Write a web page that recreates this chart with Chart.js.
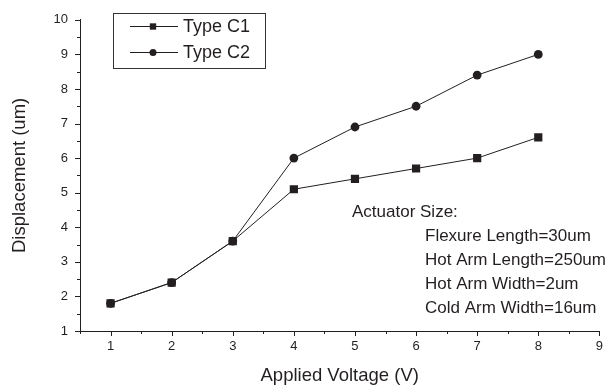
<!DOCTYPE html>
<html>
<head>
<meta charset="utf-8">
<script src="https://cdn.jsdelivr.net/npm/chart.js@4/dist/chart.umd.min.js"></script>
<style>
  html, body { margin: 0; padding: 0; background: #fff; }
  #chart { display: block; }
</style>
</head>
<body>
<canvas id="chart" width="611" height="389"></canvas>
<script>
// data
const voltage = [1, 2, 3, 4, 5, 6, 7, 8];
const typeC1 = [1.8, 2.4, 3.6, 5.1, 5.4, 5.7, 6.0, 6.6];
const typeC2 = [1.8, 2.4, 3.6, 6.0, 6.9, 7.5, 8.4, 9.0];
const seriesNames = ['Type C1', 'Type C2'];
const noteTitle = 'Actuator Size:';
const noteLines = ['Flexure Length=30um', 'Hot Arm Length=250um', 'Hot Arm Width=2um', 'Cold Arm Width=16um'];

const ink = '#231f20';
const fontFam = '"Liberation Sans", Arial, Helvetica, sans-serif';

document.addEventListener('DOMContentLoaded', () => {
  const toPoints = (ys) => voltage.map((v, i) => ({ x: v, y: ys[i] }));

  // tick marks: long on whole numbers, short on the halves
  const tickMarks = {
    id: 'tickMarks',
    afterDraw(chart) {
      const ctx = chart.ctx;
      ctx.save();
      ctx.strokeStyle = ink;
      ctx.lineWidth = 1;
      const xs = chart.scales.x;
      xs.ticks.forEach(t => {
        const px = Math.round(xs.getPixelForValue(t.value)) + 0.5;
        const len = Number.isInteger(t.value) ? 5 : 3;
        ctx.beginPath();
        ctx.moveTo(px, xs.top);
        ctx.lineTo(px, xs.top + len);
        ctx.stroke();
      });
      const ys = chart.scales.y;
      ys.ticks.forEach(t => {
        const py = Math.round(ys.getPixelForValue(t.value)) + 0.5;
        const len = Number.isInteger(t.value) ? 5 : 3;
        ctx.beginPath();
        ctx.moveTo(ys.right - len, py);
        ctx.lineTo(ys.right, py);
        ctx.stroke();
      });
      ctx.restore();
    }
  };

  // boxed legend and the actuator note
  const boxLegend = {
    id: 'boxLegend',
    afterDraw(chart) {
      const ctx = chart.ctx;
      ctx.save();
      ctx.strokeStyle = '#333';
      ctx.lineWidth = 1;
      ctx.strokeRect(113.5, 13.5, 152, 55);
      chart.data.datasets.forEach((ds, i) => {
        const y = 26 + i * 26;
        ctx.strokeStyle = ink;
        ctx.beginPath();
        ctx.moveTo(130, y + 0.5);
        ctx.lineTo(178, y + 0.5);
        ctx.stroke();
        ctx.fillStyle = ink;
        Chart.helpers.drawPoint(ctx, {
          pointStyle: ds.pointStyle,
          radius: ds.pointStyle === 'rect' ? 4.5 : 3.5,
          rotation: 0,
          borderWidth: 0
        }, 153, y + 0.5);
        ctx.fillStyle = ink;
        ctx.font = '18px ' + fontFam;
        ctx.textBaseline = 'middle';
        ctx.textAlign = 'left';
        ctx.fillText(ds.label, 183, y + 1);
      });

      ctx.font = '17px ' + fontFam;
      ctx.fillStyle = ink;
      ctx.textBaseline = 'middle';
      ctx.fillText(noteTitle, 352, 212);
      noteLines.forEach((s, i) => ctx.fillText(s, 425, 236 + i * 24));
      ctx.restore();
    }
  };

  new Chart(document.getElementById('chart'), {
    type: 'line',
    data: {
      datasets: [{
        label: seriesNames[0],
        data: toPoints(typeC1),
        borderColor: ink,
        backgroundColor: ink,
        borderWidth: 1,
        pointStyle: 'rect',
        pointRadius: 5.8,
        pointBorderWidth: 0,
        tension: 0
      }, {
        label: seriesNames[1],
        data: toPoints(typeC2),
        borderColor: ink,
        backgroundColor: ink,
        borderWidth: 1,
        pointStyle: 'circle',
        pointRadius: 4.4,
        pointBorderWidth: 0,
        tension: 0
      }]
    },
    options: {
      responsive: false,
      devicePixelRatio: 1,
      animation: false,
      layout: { padding: { top: 13, right: 7, left: 0, bottom: 0 } },
      plugins: { legend: { display: false }, tooltip: { enabled: false } },
      scales: {
        x: {
          type: 'linear',
          min: 0.5,
          max: 9,
          afterFit: (s) => { s.height = 58; },
          grid: { display: false, drawTicks: false },
          border: { display: true, color: ink, width: 1 },
          ticks: {
            stepSize: 0.5,
            autoSkip: false,
            maxRotation: 0,
            padding: 8,
            color: ink,
            font: { family: fontFam, size: 13 },
            callback: (v) => Number.isInteger(v) ? String(v) : ''
          },
          title: {
            display: true,
            text: 'Applied Voltage (V)',
            color: ink,
            font: { family: fontFam, size: 18.5 },
            padding: { top: 0, bottom: 2 }
          }
        },
        y: {
          min: 1,
          max: 10,
          afterFit: (s) => { s.width = 80; },
          grid: { display: false, drawTicks: false },
          border: { display: true, color: ink, width: 1 },
          ticks: {
            stepSize: 0.5,
            autoSkip: false,
            padding: 12,
            color: ink,
            font: { family: fontFam, size: 13 },
            callback: (v) => Number.isInteger(v) ? String(v) : ''
          },
          title: {
            display: true,
            text: 'Displacement (um)',
            color: ink,
            font: { family: fontFam, size: 18.5 },
            padding: { top: 9, bottom: 0 }
          }
        }
      }
    },
    plugins: [tickMarks, boxLegend]
  });
});
</script>
</body>
</html>
